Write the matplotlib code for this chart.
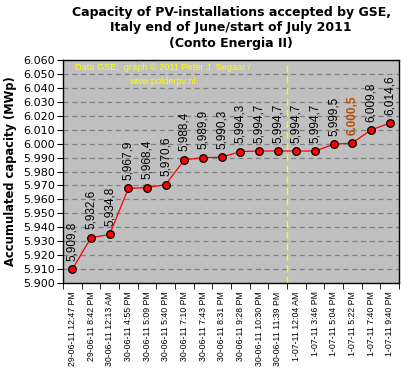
import matplotlib
matplotlib.use("Agg")
import matplotlib.pyplot as plt
import numpy as np

# Data (capacity in MWp, dutch style labels)
timestamps = [
    "29-06-11 12:47 PM", "29-06-11 8:42 PM", "30-06-11 12:13 AM", "30-06-11 4:55 PM",
    "30-06-11 5:09 PM", "30-06-11 5:40 PM", "30-06-11 7:10 PM", "30-06-11 7:43 PM",
    "30-06-11 8:31 PM", "30-06-11 9:28 PM", "30-06-11 10:30 PM", "30-06-11 11:39 PM",
    "1-07-11 12:04 AM", "1-07-11 3:46 PM", "1-07-11 5:04 PM", "1-07-11 5:22 PM",
    "1-07-11 7:40 PM", "1-07-11 9:40 PM",
]
capacity = [
    5.9098, 5.9326, 5.9348, 5.9679, 5.9684, 5.9706, 5.9884, 5.9899, 5.9903,
    5.9943, 5.9947, 5.9947, 5.9947, 5.9947, 5.9995, 6.0005, 6.0098, 6.0146,
]
point_labels = [
    "5,909,8", "5,932,6", "5,934,8", "5,967,9", "5,968,4", "5,970,6", "5,988,4",
    "5,989,9", "5,990,3", "5,994,3", "5,994,7", "5,994,7", "5,994,7", "5,994,7",
    "5,999,5", "6.000,5", "6,009,8", "6,014,6",
]
highlight = 15          # the label drawn bold in brown
month_break = 11.5      # yellow line between 30 June and 1 July

y_ticks = np.arange(5.900, 6.0601, 0.010)

fig = plt.figure(figsize=(4.11, 3.71), dpi=100)
ax = fig.add_axes([63 / 411, 1 - 283 / 371, 336 / 411, 223 / 371])
ax.set_facecolor("#c0c0c0")

x = np.arange(len(capacity))
ax.plot(x, capacity, color="red", lw=0.9, marker="o", ms=5.5,
        mfc="red", mec="black", mew=0.9, zorder=3)

# value labels above each point
for i, (xi, yi, lab) in enumerate(zip(x, capacity, point_labels)):
    if i == highlight:
        ax.annotate(lab, (xi, yi), xytext=(0, 6), textcoords="offset points",
                    rotation=90, ha="center", va="bottom", fontsize=8.5,
                    fontweight="bold", color="#b5500f", family="Liberation Sans")
    else:
        ax.annotate(lab, (xi, yi), xytext=(0, 6), textcoords="offset points",
                    rotation=90, ha="center", va="bottom", fontsize=8.5,
                    color="black", family="Liberation Sans")

ax.axvline(month_break, color="yellow", ls=(0, (5, 3)), lw=1.0, zorder=2)

ax.set_xlim(-0.5, len(capacity) - 0.5)
ax.set_ylim(5.900, 6.060)
ax.set_yticks(y_ticks)
ax.set_yticklabels([f"{v:.3f}" for v in y_ticks], fontsize=8, family="DejaVu Sans")
ax.yaxis.grid(True, color="#808080", ls=(0, (4, 3)), lw=0.9)
ax.set_axisbelow(True)

# category labels at point positions, tick marks at category boundaries
ax.set_xticks(x)
ax.set_xticklabels(timestamps, rotation=90, fontsize=6.3, family="Liberation Sans")
ax.tick_params(axis="x", length=0, pad=6)
ax.set_xticks(np.arange(-0.5, len(capacity), 1.0), minor=True)
ax.tick_params(axis="x", which="minor", length=4, direction="out")
ax.tick_params(axis="y", length=4, direction="out", pad=2)

for s in ax.spines.values():
    s.set_color("black")
    s.set_linewidth(1.0)

ax.set_ylabel("Accumulated capacity (MWp)", fontsize=8.3, fontweight="bold",
              family="DejaVu Sans", labelpad=4)

ax.text(0.036, 0.985, "Data GSE;  graph \u00a9 2011 Peter J. Segaar /",
        transform=ax.transAxes, color="yellow", fontsize=6.6,
        family="Liberation Sans", va="top")
ax.text(0.195, 0.925, "www.polderpv.nl", transform=ax.transAxes, color="yellow",
        fontsize=6.6, family="Liberation Sans", va="top")

fig.text(231 / 411, 1 - 6 / 371,
         "Capacity of PV-installations accepted by GSE,\n"
         "Italy end of June/start of July 2011\n"
         "(Conto Energia II)",
         ha="center", va="top", fontsize=9, fontweight="bold",
         family="DejaVu Sans", linespacing=1.25)

fig.savefig("out.png", dpi=100, facecolor="white")
